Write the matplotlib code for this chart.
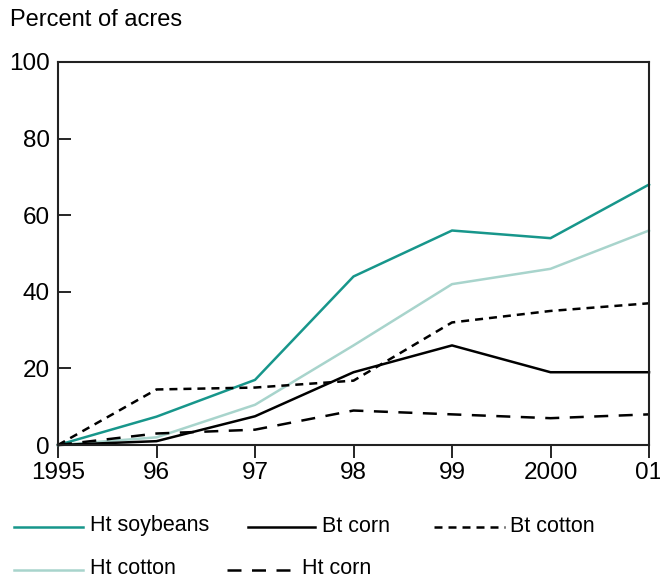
import matplotlib
matplotlib.use("Agg")
import matplotlib.pyplot as plt
from matplotlib.lines import Line2D

plt.rcParams['font.family'] = ['Liberation Sans', 'DejaVu Sans']

years = [1995, 1996, 1997, 1998, 1999, 2000, 2001]
tick_labels = ["1995", "96", "97", "98", "99", "2000", "01"]
ht_soybeans = [0, 7.4, 17, 44, 56, 54, 68]
ht_cotton = [0, 2, 10.5, 26, 42, 46, 56]
bt_corn = [0, 1, 7.5, 19, 26, 19, 19]
bt_cotton = [0, 14.5, 15, 16.8, 32, 35, 37]
ht_corn = [0, 3, 4, 9, 8, 7, 8]

teal = "#17968b"
light = "#a8d4cc"

W, H = 660, 575
fig = plt.figure(figsize=(6.6, 5.75), dpi=100)
ax = fig.add_axes([58/W, 1-445/H, (649-58)/W, (445-62)/H])

lw = 1.8
ls_btcot = (0, (3.2, 2.4))
ls_htcorn = (0, (5.6, 4.2))
series = [
    (ht_soybeans, teal, '-', "Ht soybeans"),
    (ht_cotton, light, '-', "Ht cotton"),
    (bt_corn, "black", '-', "Bt corn"),
    (ht_corn, "black", ls_htcorn, "Ht corn"),
    (bt_cotton, "black", ls_btcot, "Bt cotton"),
]
for vals, c, ls, lab in series:
    ax.plot(years, vals, color=c, lw=lw, linestyle=ls, label=lab, clip_on=False)

ax.set_xlim(1995, 2001)
ax.set_ylim(0, 100)
ax.set_xticks(years)
ax.set_xticklabels(tick_labels)
ax.set_yticks([0, 20, 40, 60, 80, 100])
ax.tick_params(axis='y', direction='in', length=9, width=1.2, labelsize=17.5, pad=6)
ax.tick_params(axis='x', direction='out', length=9, width=1.2, labelsize=17.5, pad=3)
for s in ['left', 'right', 'bottom', 'top']:
    ax.spines[s].set_linewidth(1.5)
    ax.spines[s].set_color("#222222")

fig.text(10/W, 1-20/H, "Percent of acres", fontsize=17, ha='left', va='center')

# manual legend (positions in figure pixels)
legend_items = [
    ("Ht soybeans", teal, '-', 14, 83, 527, 90),
    ("Bt corn", "black", '-', 248, 315, 527, 322),
    ("Bt cotton", "black", ls_btcot, 434, 505, 527, 510),
    ("Ht cotton", light, '-', 14, 83, 570, 90),
    ("Ht corn", "black", ls_htcorn, 227, 293, 570, 302),
]
for lab, c, ls, x0, x1, y, tx in legend_items:
    fig.add_artist(Line2D([x0/W, x1/W], [1-y/H, 1-y/H], transform=fig.transFigure,
                          color=c, lw=lw, linestyle=ls))
    fig.text(tx/W, 1-(y-1)/H, lab, fontsize=15.5, ha='left', va='center')

fig.savefig("out.png", dpi=100)
